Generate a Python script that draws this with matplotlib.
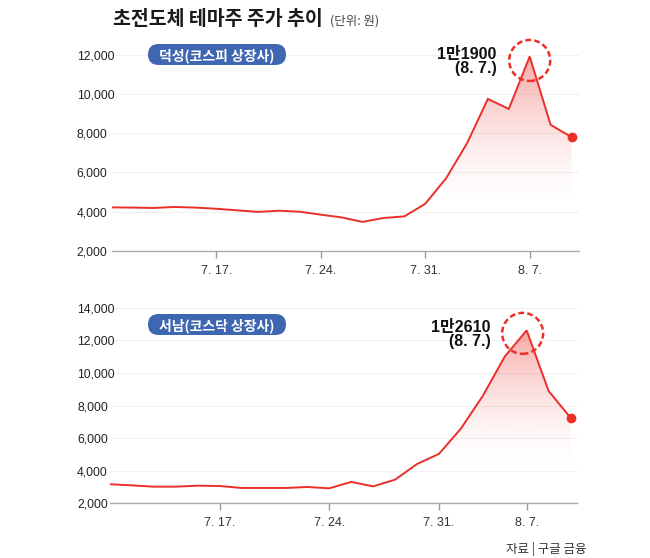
import numpy as np
import matplotlib.pyplot as plt
from matplotlib.patches import Polygon, FancyBboxPatch, Circle
from matplotlib.transforms import IdentityTransform, Affine2D
from matplotlib.colors import to_rgb

plt.rcParams['font.family'] = ['Liberation Sans', 'Noto Sans CJK KR', 'DejaVu Sans']

W, H = 650, 558

# 거래일 기준 (7.10 ~ 8.9)
tick_labels = ['7. 17.', '7. 24.', '7. 31.', '8. 7.']

ds_name = '덕성(코스피 상장사)'
ds_ticks = [5, 10, 15, 20]
ds_price = [4220, 4210, 4190, 4240, 4210, 4150, 4070, 3990, 4050, 4000,
            3850, 3710, 3480, 3680, 3760, 4400, 5700, 7480, 9740, 9230,
            11900, 8420, 7800]
ds_yticks = [2000, 4000, 6000, 8000, 10000, 12000]
ds_peak_text = '1만1900\n(8. 7.)'

sn_name = '서남(코스닥 상장사)'
sn_ticks = [5, 10, 15, 19]
sn_price = [3170, 3100, 3020, 3020, 3080, 3060, 2940, 2940, 2940, 3000,
            2920, 3310, 3040, 3450, 4410, 5030, 6580, 8590, 11000, 12610,
            8890, 7250]
sn_yticks = [2000, 4000, 6000, 8000, 10000, 12000, 14000]
sn_peak_text = '1만2610\n(8. 7.)'

RED = '#ea2f29'
BLUE = '#3f67b1'
KR = ['Noto Sans CJK KR', 'DejaVu Sans']


def px_rect(x0, y_top, x1, y_bot):
    # 픽셀 좌표(위에서부터) -> figure 비율
    return [x0 / W, 1 - y_bot / H, (x1 - x0) / W, (y_bot - y_top) / H]


def gradient_fill(ax, x, y, ymin, lo, amax=0.42):
    x = np.asarray(x, float)
    y = np.asarray(y, float)
    top = y.max()
    n = 200
    yy = np.linspace(ymin, top, n)
    a = np.clip((yy - lo) / (top - lo), 0, 1) ** 1.7 * amax
    z = np.zeros((n, 1, 4))
    z[:, :, :3] = to_rgb(RED)
    z[:, 0, 3] = a
    im = ax.imshow(z, aspect='auto', extent=[x.min(), x.max(), ymin, top],
                   origin='lower', zorder=1, interpolation='bilinear')
    verts = np.vstack([[x.min(), ymin], np.column_stack([x, y]), [x.max(), ymin]])
    clip = Polygon(verts, closed=True, facecolor='none', edgecolor='none')
    ax.add_patch(clip)
    im.set_clip_path(clip)


def draw_panel(rect, price, ticks, yticks, ylim, xmax, ypad, name, box_y, peak_text,
               txt_off, circ_off):
    ax = fig.add_axes(rect)
    x = np.arange(len(price))
    gradient_fill(ax, x, price, ylim[0], 4000)
    ax.plot(x, price, color=RED, lw=1.4, zorder=3, solid_joinstyle='miter')
    ax.plot(x[-1], price[-1], 'o', color=RED, ms=6, zorder=4)

    ax.set_xlim(0, xmax)
    ax.set_ylim(*ylim)
    ax.set_xticks(ticks)
    ax.set_xticklabels(tick_labels)
    ax.set_yticks(yticks)
    ax.set_yticklabels([f'{v:,}' for v in yticks])
    for lbl in ax.get_yticklabels():
        lbl.set_horizontalalignment('left')
    ax.tick_params(axis='y', length=0, pad=ypad * 0.72, labelsize=8.7, labelcolor='#222')
    ax.tick_params(axis='x', length=5, width=1, color='#9a9a9a', pad=5,
                   labelsize=9, labelcolor='#333')
    for s in ['top', 'right', 'left']:
        ax.spines[s].set_visible(False)
    ax.spines['bottom'].set_color('#aaaaaa')
    ax.spines['bottom'].set_linewidth(1)
    ax.yaxis.grid(True, color='#f1f1f1', lw=0.8)
    ax.set_axisbelow(True)

    # 최고가 표시
    i = int(np.argmax(price))
    ax.annotate(peak_text, xy=(x[i], price[i]), xytext=txt_off,
                textcoords='offset pixels', ha='right', va='baseline',
                multialignment='right', linespacing=0.95,
                fontsize=11.5, fontweight='bold', color='#111')
    cx, cy = ax.transData.transform((x[i], price[i]))
    circ = Circle((0, 0), 1, fill=False, ec=RED, lw=1.8, ls=(0, (2.3, 1.3)),
                  transform=Affine2D().scale(20.5).translate(cx + circ_off[0], cy + circ_off[1]))
    fig.add_artist(circ)

    # 종목 라벨
    bh = 21
    box = FancyBboxPatch((148, H - box_y - bh / 2), 138, bh,
                         boxstyle=f'round,pad=0,rounding_size={bh / 2}',
                         transform=IdentityTransform(), fc=BLUE, ec='none')
    fig.add_artist(box)
    fig.text(217 / W, 1 - box_y / H, name, ha='center', va='center_baseline',
             color='white', fontsize=10, fontweight='bold', family=KR)
    return ax


fig = plt.figure(figsize=(W / 100, H / 100), dpi=100)
fig.patch.set_facecolor('white')

# 위: 덕성  (2,000 -> y=251px, 1,000당 19.65px)
top_ylim = (2000, 12700)
top_bottom = 251
top_top = top_bottom - (top_ylim[1] - top_ylim[0]) * 0.01965
draw_panel(px_rect(111.7, top_top, 111.7 + 20.9 * 22.35, top_bottom),
           ds_price, ds_ticks, ds_yticks, top_ylim, 22.35, 35, ds_name, 54.5,
           ds_peak_text, (-33, -17), (0, -4))

# 아래: 서남 (2,000 -> y=503.3px, 1,000당 16.3px)
bot_ylim = (2000, 14600)
bot_bottom = 503.3
bot_top = bot_bottom - (bot_ylim[1] - bot_ylim[0]) * 0.0163
draw_panel(px_rect(110, bot_top, 110 + 21.93 * 21.3, bot_bottom),
           sn_price, sn_ticks, sn_yticks, bot_ylim, 21.3, 33, sn_name, 324.5,
           sn_peak_text, (-36, -16), (-4, -3))

fig.text(113 / W, 1 - 25 / H, '초전도체 테마주 주가 추이', ha='left', va='baseline',
         fontsize=14, fontweight='heavy', color='#1a1a1a', family=KR)
fig.text(330 / W, 1 - 25 / H, '(단위: 원)', ha='left', va='baseline',
         fontsize=9, color='#444', family=KR)
fig.text(587 / W, 1 - 549 / H, '자료 | 구글 금융', ha='right', va='center',
         fontsize=9, color='#333', family=KR)

fig.savefig('out.png', dpi=100, facecolor='white')
